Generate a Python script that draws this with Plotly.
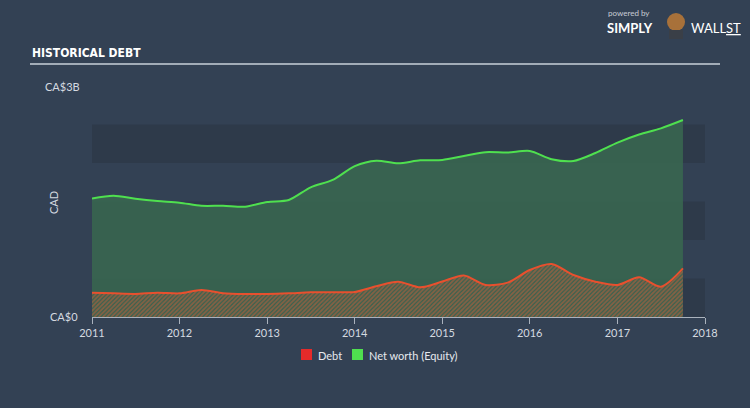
import plotly.graph_objects as go

dates = ["2011-01-01","2011-04-01","2011-07-01","2011-10-01",
         "2012-01-01","2012-04-01","2012-07-01","2012-10-01",
         "2013-01-01","2013-04-01","2013-07-01","2013-10-01",
         "2014-01-01","2014-04-01","2014-07-01","2014-10-01",
         "2015-01-01","2015-04-01","2015-07-01","2015-10-01",
         "2016-01-01","2016-04-01","2016-07-01","2016-10-01",
         "2017-01-01","2017-04-01","2017-07-01","2017-10-01"]
equity_b = [1.54,1.575,1.535,1.505,1.485,1.445,1.445,1.432,1.494,1.52,1.684,1.78,
            1.96,2.03,1.996,2.035,2.04,2.09,2.14,2.135,2.156,2.05,2.026,2.13,
            2.265,2.37,2.45,2.558]
debt_b = [0.316,0.307,0.300,0.316,0.307,0.351,0.31,0.299,0.299,0.307,0.32,0.322,
          0.325,0.40,0.459,0.385,0.46,0.54,0.416,0.446,0.61,0.688,0.545,0.459,
          0.416,0.515,0.394,0.632]
band_edges_b = [0, 0.5, 1.0, 1.5, 2.0, 2.5]
x_ticks = ["2011","2012","2013","2014","2015","2016","2017","2018"]

BG = "#334154"
BAND = "#2e3a4a"
equity = [v*1e9 for v in equity_b]
debt = [v*1e9 for v in debt_b]

fig = go.Figure()
fig.add_trace(go.Scatter(x=dates, y=equity, mode="lines", line=dict(color="#4fe04f", width=2, shape="spline", smoothing=0.8),
                         fill="tozeroy", fillcolor="rgba(56,102,80,0.9)", showlegend=False, hoverinfo="skip"))
fig.add_trace(go.Scatter(x=dates, y=debt, mode="lines", line=dict(color="#e8502e", width=2, shape="spline", smoothing=0.8),
                         fill="tozeroy", fillcolor="rgba(0,0,0,0)",
                         fillpattern=dict(shape="/", fgcolor="#d4623a", bgcolor="rgba(0,0,0,0)", size=3, solidity=0.6),
                         showlegend=False, hoverinfo="skip"))

shapes = []
for i in range(len(band_edges_b)-1):
    if i % 2 == 0:
        shapes.append(dict(type="rect", xref="x", yref="y", x0="2011-01-01", x1="2018-01-01",
                           y0=band_edges_b[i]*1e9, y1=band_edges_b[i+1]*1e9,
                           fillcolor=BAND, line=dict(width=0), layer="below"))

def px_x(x):
    return (x-92)/613
def px_y(y):
    return (317-y)/231

# title underline
shapes.append(dict(type="line", xref="paper", yref="paper", x0=px_x(30), x1=px_x(720), y0=px_y(64), y1=px_y(64),
                   line=dict(color="#c9d0d8", width=1.5)))
# legend squares
shapes.append(dict(type="rect", xref="paper", yref="paper", x0=px_x(301), x1=px_x(312),
                   y0=px_y(349), y1=px_y(360), fillcolor="#e52a2a", line=dict(width=0)))
shapes.append(dict(type="rect", xref="paper", yref="paper", x0=px_x(352), x1=px_x(363),
                   y0=px_y(349), y1=px_y(360), fillcolor="#4fe04f", line=dict(width=0)))

ann = []
ann.append(dict(text="<b>HISTORICAL DEBT</b>", x=px_x(30), y=px_y(53), xref="paper", yref="paper", xanchor="left", yanchor="middle",
                showarrow=False, font=dict(family="Liberation Sans Narrow, DejaVu Sans Condensed, Liberation Sans, sans-serif", size=12, color="#ffffff")))
ann.append(dict(text="CA$3B", x=px_x(82), y=px_y(86), xref="paper", yref="paper", xanchor="right", yanchor="middle",
                showarrow=False, font=dict(family="Lato, sans-serif", size=11, color="#d5dae0")))
ann.append(dict(text="CA$0", x=px_x(80), y=px_y(316), xref="paper", yref="paper", xanchor="right", yanchor="middle",
                showarrow=False, font=dict(family="Lato, sans-serif", size=11, color="#d5dae0")))
ann.append(dict(text="CAD", x=px_x(53), y=px_y(203), xref="paper", yref="paper", xanchor="center", yanchor="middle", textangle=-90,
                showarrow=False, font=dict(family="Lato, sans-serif", size=11, color="#d5dae0")))
ann.append(dict(text="Debt", x=px_x(316), y=px_y(355), xref="paper", yref="paper", xanchor="left", yanchor="middle",
                showarrow=False, font=dict(family="Lato, sans-serif", size=11, color="#e6e9ee")))
ann.append(dict(text="Net worth (Equity)", x=px_x(367), y=px_y(355), xref="paper", yref="paper", xanchor="left", yanchor="middle",
                showarrow=False, font=dict(family="Lato, sans-serif", size=11, color="#e6e9ee")))
# logo text
ann.append(dict(text="powered by", x=px_x(606), y=px_y(13), xref="paper", yref="paper", xanchor="left", yanchor="middle",
                showarrow=False, font=dict(family="Lato, sans-serif", size=8, color="#c8cdd4")))
ann.append(dict(text="<b>SIMPLY</b>", x=px_x(605), y=px_y(28), xref="paper", yref="paper", xanchor="left", yanchor="middle",
                showarrow=False, font=dict(family="Lato, sans-serif", size=13, color="#ffffff")))
ann.append(dict(text="WALL<u>ST</u>", x=px_x(689), y=px_y(28), xref="paper", yref="paper", xanchor="left", yanchor="middle",
                showarrow=False, font=dict(family="Lato, sans-serif", size=13, color="#ffffff")))
shapes.append(dict(type="circle", xref="paper", yref="paper", x0=px_x(667), x1=px_x(685), y0=px_y(13), y1=px_y(31),
                   fillcolor="#a8713a", line=dict(width=0)))
shapes.append(dict(type="rect", xref="paper", yref="paper", x0=px_x(669), x1=px_x(683), y0=px_y(30), y1=px_y(39),
                   fillcolor="#3a3f47", line=dict(width=0)))

fig.update_layout(
    width=750, height=408,
    margin=dict(l=92, r=45, t=86, b=91),
    paper_bgcolor=BG, plot_bgcolor=BG,
    shapes=shapes, annotations=ann,
    showlegend=False,
    xaxis=dict(type="date", range=["2011-01-01","2018-01-01"],
               tickvals=[t+"-01-01" for t in x_ticks], ticktext=x_ticks,
               showgrid=False, zeroline=False, showline=True, linecolor="#aab2bd", linewidth=1,
               ticks="outside", ticklen=6, tickcolor="#aab2bd", tickwidth=1,
               tickfont=dict(family="Lato, sans-serif", size=11, color="#d5dae0")),
    yaxis=dict(range=[0, 3e9], showgrid=False, zeroline=False, showticklabels=False, showline=False),
)
fig.write_html("out.html")
